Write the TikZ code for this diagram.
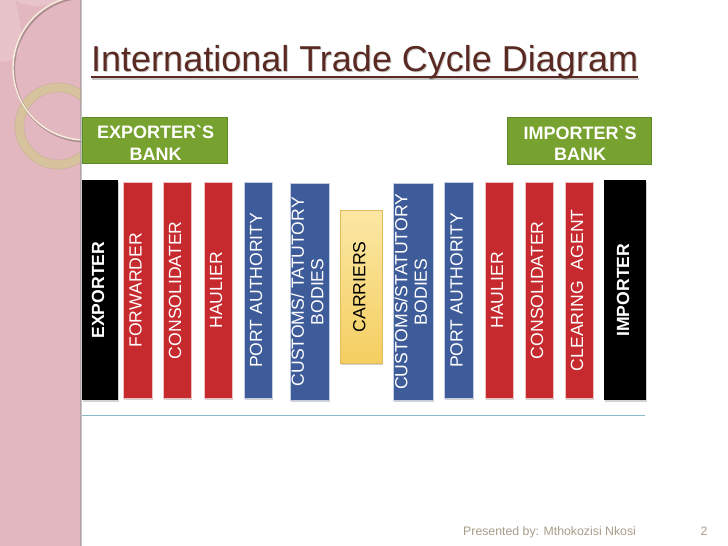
\documentclass[tikz,border=0pt]{standalone}
\usepackage{fontspec}
\setmainfont{Liberation Sans}
\usetikzlibrary{shadows}
\definecolor{bandpink}{HTML}{E2B7BF}
\definecolor{bandlight}{HTML}{EDCDD2}
\definecolor{ringtan}{HTML}{D6C29C}
\definecolor{circcream}{HTML}{F7F0DC}
\definecolor{titlebrown}{HTML}{5A2A22}
\definecolor{bankgreen}{HTML}{78A22F}
\definecolor{bankedge}{HTML}{5C8A28}
\definecolor{barred}{HTML}{C62A2E}
\definecolor{barblue}{HTML}{3E5B9A}
\definecolor{caryellowtop}{HTML}{FBE7A4}
\definecolor{caryellowbot}{HTML}{F4CE60}
\definecolor{caredge}{HTML}{E2BC5E}
\definecolor{rulecol}{HTML}{8CB9C9}
\definecolor{footcol}{HTML}{A89C8A}
\newcommand{\bartextfont}{\fontsize{17.6}{19.5}\selectfont}
\tikzset{
  barbox/.style={rectangle, inner sep=0pt, anchor=north west, text=white,
    drop shadow={shadow xshift=1pt, shadow yshift=-2pt, opacity=0.35}},
  redbar/.style={barbox, fill=barred, draw=white!70!barred, line width=0.6pt,
    minimum width=29pt, minimum height=216pt},
  bluebar/.style={barbox, fill=barblue, draw=white!70!barblue, line width=0.6pt,
    minimum width=29pt, minimum height=216pt},
  bankbox/.style={rectangle, inner sep=0pt, anchor=north west, fill=bankgreen,
    draw=bankedge, line width=1.2pt},
  banktext/.style={inner sep=0pt, text=white, align=center,
    font=\fontsize{18}{21.5}\selectfont\bfseries}
}
\newcommand{\vt}[1]{\rotatebox{90}{\bartextfont\begin{tabular}{@{}c@{}}#1\end{tabular}}}
\begin{document}
\begin{tikzpicture}[x=1pt,y=-1pt]
\useasboundingbox (0,0) rectangle (728,546);
\fill[white] (0,0) rectangle (728,546);
% left decorative band
\begin{scope}
  \clip (0,0) rectangle (81,546);
  \fill[bandpink] (0,0) rectangle (81,546);
  \fill[bandlight, opacity=0.55] (0,0) -- (60,0) arc[start angle=-60, end angle=-120, radius=45pt]
     .. controls (30,55) and (15,62) .. (0,62) -- cycle;
  \fill[ringtan, even odd rule] (58,126) circle[radius=43pt] (58,126) circle[radius=34pt];
  \draw[ringtan!80!black, opacity=0.35, line width=0.5pt] (58,126) circle[radius=43pt] (58,126) circle[radius=34pt];
  \draw[black, opacity=0.22, line width=2.2pt] (86,69.5) circle[radius=72pt];
  \draw[circcream, line width=1.4pt] (85,68) circle[radius=72pt];
\end{scope}
\fill[black!45, opacity=0.5] (80,0) rectangle (82,546);
% title
\node[anchor=base west, inner sep=0pt, text=black, opacity=0.2,
      font=\fontsize{36}{40}\selectfont] at (92,72.5) {International Trade Cycle Diagram};
\node[anchor=base west, inner sep=0pt, text=titlebrown,
      font=\fontsize{36}{40}\selectfont] (title) at (91,71) {International Trade Cycle Diagram};
\coordinate (ulA) at ([yshift=-6pt]title.base west);
\coordinate (ulB) at ([yshift=-6pt]title.base east);
\draw[black, opacity=0.22, line width=2pt] ([xshift=1pt,yshift=-1.5pt]ulA) -- ([xshift=1pt,yshift=-1.5pt]ulB);
\draw[titlebrown, line width=2pt] (ulA) -- (ulB);
% banks
\node[bankbox, minimum width=145pt, minimum height=46pt] (expbank) at (82,117) {};
\node[banktext] (expbanktxt) at ([xshift=0.5pt,yshift=-2.5pt]expbank.center)
  {EXPORTER\textasciigrave S\\BANK};
\node[bankbox, minimum width=144pt, minimum height=47pt] (impbank) at (507,117) {};
\node[banktext] (impbanktxt) at ([xshift=0.5pt,yshift=-2.5pt]impbank.center)
  {IMPORTER\textasciigrave S\\BANK};
% bars
\node[barbox, fill=black, minimum width=36pt, minimum height=220pt] (exporter) at (82,180)
  {\vt{\bfseries EXPORTER}};
\node[redbar] (forwarder) at (123,182) {\vt{FORWARDER}};
\node[redbar, minimum width=28pt] (consol1) at (163,182) {\vt{CONSOLIDATER}};
\node[redbar, minimum width=28pt] (haulier1) at (204,182) {\vt{HAULIER}};
\node[bluebar, minimum width=28pt] (port1) at (244,182) {\vt{PORT AUTHORITY}};
\node[bluebar, minimum width=39pt, minimum height=217pt] (customs1) at (290,183)
  {\vt{CUSTOMS/ TATUTORY\\BODIES}};
\node[barbox, top color=caryellowtop, bottom color=caryellowbot, draw=caredge,
      line width=0.8pt, text=black, minimum width=42pt, minimum height=153pt]
  (carriers) at (340,210) {\vt{CARRIERS}};
\node[bluebar, minimum width=40pt, minimum height=217pt] (customs2) at (393,183)
  {\vt{CUSTOMS/STATUTORY\\BODIES}};
\node[bluebar] (port2) at (444,182) {\vt{PORT AUTHORITY}};
\node[redbar, minimum width=28pt] (haulier2) at (485,182) {\vt{HAULIER}};
\node[redbar, minimum width=28pt] (consol2) at (525,182) {\vt{CONSOLIDATER}};
\node[redbar, minimum width=28pt] (clearing) at (565,182) {\vt{CLEARING\hspace{0.35em} AGENT}};
\node[barbox, fill=black, minimum width=42pt, minimum height=220pt] (importer) at (604,180)
  {\vt{\bfseries IMPORTER}};
% base rule
\coordinate (ruleL) at (82,415);
\coordinate (ruleR) at (645,415);
\draw[rulecol, line width=1pt] (ruleL) -- (ruleR);
% footer
\node[anchor=base west, inner sep=0pt, text=footcol, font=\fontsize{12.3}{14}\selectfont]
  (footer) at (463,535) {Presented by: Mthokozisi Nkosi};
\node[anchor=base, inner sep=0pt, text=footcol, font=\fontsize{12.3}{14}\selectfont]
  (pageno) at (704,535) {2};
\end{tikzpicture}
\end{document}
